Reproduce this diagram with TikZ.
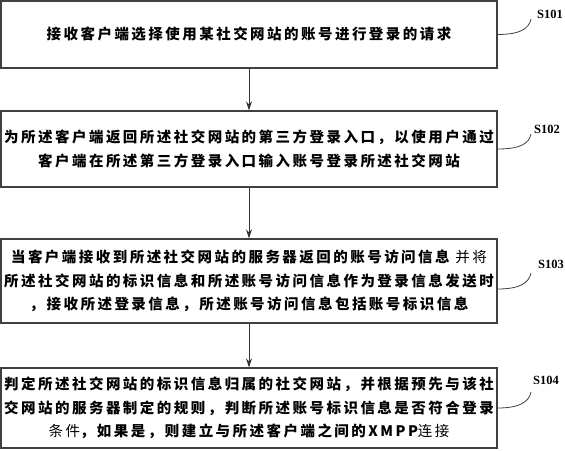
\documentclass[tikz,border=0pt]{standalone}
\usepackage{fontspec}
\usetikzlibrary{arrows.meta,calc}
\newfontfamily\cjk[LetterSpace=17]{Noto Sans CJK SC}
\newfontfamily\labfont{Liberation Serif}
\newcommand{\lite}[1]{{\mdseries #1}}
\begin{document}
\begin{tikzpicture}[x=1pt,y=-1pt,
  stepbox/.style={draw=black!75,line width=1.1pt,rectangle,minimum width=496pt,
    inner sep=0pt,align=center,text=black,
    font=\cjk\bfseries\fontsize{14.5}{23.5}\selectfont},
  flow/.style={draw=black!80,line width=0.8pt,-{Stealth[length=9pt,width=6pt]}},
  lead/.style={draw=black!75,line width=0.8pt},
  steplabel/.style={font=\labfont\bfseries\fontsize{12.5}{12.5}\selectfont,inner sep=0pt}]
\useasboundingbox (0,0) rectangle (565,450);
\node[stepbox,minimum height=67pt] (b1) at (249,34.5) {接收客户端选择使用某社交网站的账号进行登录的请求};
\node[stepbox,minimum height=76pt] (b2) at (249,149) {为所述客户端返回所述社交网站的第三方登录入口，以使用户通过\\客户端在所述第三方登录入口输入账号登录所述社交网站};
\node[stepbox,minimum height=84pt] (b3) at (249,281) {当客户端接收到所述社交网站的服务器返回的账号访问信息 \lite{并将}\\所述社交网站的标识信息和所述账号访问信息作为登录信息发送时\\，接收所述登录信息，所述账号访问信息包括账号标识信息};
\node[stepbox,minimum height=80pt] (b4) at (249,408) {判定所述社交网站的标识信息归属的社交网站，并根据预先与该社\\交网站的服务器制定的规则，判断所述账号标识信息是否符合登录\\\lite{条件}，如果是，则建立与所述客户端之间的XMPP\lite{连接}};
\draw[flow] (b1.south) -- (b2.north);
\draw[flow] (b2.south) -- (b3.north);
\draw[flow] (b3.south) -- (b4.north);
\node[steplabel,anchor=west] (l1) at (537,14) {S101};
\node[steplabel,anchor=west] (l2) at (534,129) {S102};
\node[steplabel,anchor=west] (l3) at (538,264) {S103};
\node[steplabel,anchor=west] (l4) at (533,380) {S104};
\coordinate (e1) at (531,19);
\coordinate (e2) at (531,134);
\coordinate (e3) at (531,273);
\coordinate (e4) at (531,392);
\coordinate (s3) at ($(b3.east)+(0,8)$);
\draw[lead] (b1.east) .. controls ($(b1.east)+(22,0)$) and ($(e1)+(-2,10)$) .. (e1);
\draw[lead] (b2.east) .. controls ($(b2.east)+(22,0)$) and ($(e2)+(-2,10)$) .. (e2);
\draw[lead] (s3) .. controls ($(s3)+(22,0)$) and ($(e3)+(-2,10)$) .. (e3);
\draw[lead] (b4.east) .. controls ($(b4.east)+(22,0)$) and ($(e4)+(-2,10)$) .. (e4);
\end{tikzpicture}
\end{document}
